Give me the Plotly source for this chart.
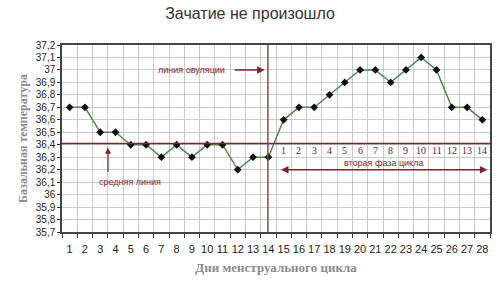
import plotly.graph_objects as go

days = list(range(1, 29))
temps = [36.7, 36.7, 36.5, 36.5, 36.4, 36.4, 36.3, 36.4, 36.3, 36.4,
         36.4, 36.2, 36.3, 36.3, 36.6, 36.7, 36.7, 36.8, 36.9, 37.0,
         37.0, 36.9, 37.0, 37.1, 37.0, 36.7, 36.7, 36.6]
mean_temp = 36.41
ovulation_day = 13.97
ytick_vals = [35.7, 35.8, 35.9, 36.0, 36.1, 36.2, 36.3, 36.4, 36.5, 36.6,
              36.7, 36.8, 36.9, 37.0, 37.1, 37.2]
ytick_text = ["35,7", "35,8", "35,9", "36", "36,1", "36,2", "36,3", "36,4",
              "36,5", "36,6", "36,7", "36,8", "36,9", "37", "37,1", "37,2"]
phase_days = list(range(15, 29))
phase_labels = [str(i) for i in range(1, 15)]

RED = "#7d2525"
fig = go.Figure()
fig.add_trace(go.Scatter(
    x=days, y=temps, mode="lines+markers",
    line=dict(color="#4f8a4f", width=1.5),
    marker=dict(symbol="diamond", size=6, color="#111111"),
    hoverinfo="skip", showlegend=False))

fig.add_shape(type="line", xref="paper", x0=0, x1=1, yref="y",
              y0=mean_temp, y1=mean_temp, line=dict(color=RED, width=1.5))
fig.add_shape(type="line", xref="x", x0=ovulation_day, x1=ovulation_day,
              yref="paper", y0=0, y1=1, line=dict(color="#8b4a4a", width=1.5))

ann_font = dict(family="Liberation Sans", size=9, color=RED)
fig.add_annotation(x=13.75, y=37.0, ax=11.7, ay=37.0, axref="x", ayref="y",
                   showarrow=True, arrowhead=2, arrowsize=1, arrowwidth=1.5,
                   arrowcolor=RED, text="")
fig.add_annotation(x=8.95, y=37.0, text="линия овуляции", showarrow=False,
                   font=ann_font)
fig.add_annotation(x=3.51, y=36.375, ax=3.51, ay=36.17, axref="x", ayref="y",
                   showarrow=True, arrowhead=2, arrowsize=1, arrowwidth=1.2,
                   arrowcolor=RED, text="")
fig.add_annotation(x=4.95, y=36.1, text="средняя линия", showarrow=False,
                   font=ann_font)
fig.add_annotation(x=28.33, y=36.2, ax=14.73, ay=36.2, axref="x", ayref="y",
                   showarrow=True, arrowhead=2, startarrowhead=2,
                   arrowside="end+start", arrowsize=1, arrowwidth=1.5,
                   arrowcolor=RED, text="")
fig.add_annotation(x=21.55, y=36.25, text="вторая фаза цикла", showarrow=False,
                   font=ann_font)
for d, lab in zip(phase_days, phase_labels):
    fig.add_annotation(x=d, y=36.355, text=lab, showarrow=False,
                       font=dict(family="Liberation Serif", size=10, color="#5a2a2a"))

fig.update_layout(
    width=500, height=302,
    margin=dict(l=62, r=8, t=45, b=70),
    paper_bgcolor="white", plot_bgcolor="white",
    title=dict(text="Зачатие не произошло", x=0.5, xanchor="center",
               y=0.955, yanchor="middle",
               font=dict(family="Liberation Sans", size=16, color="#333333")),
    xaxis=dict(range=[0.5, 28.5], tickvals=days, ticktext=[str(d) for d in days],
               showgrid=False, ticks="", zeroline=False, ticklabelstandoff=6,
               tickfont=dict(family="Liberation Sans", size=11, color="#222"),
               showline=True, linecolor="#444", linewidth=1.5, mirror=True,
               minor=dict(tick0=0.5, dtick=1, showgrid=True, gridcolor="#c9c9c9",
                          gridwidth=1, ticks="outside", ticklen=4, tickcolor="#333"),
               title=dict(text="<b>Дни менструального цикла</b>", standoff=9,
                          font=dict(family="Liberation Serif", size=13, color="#8a8a8a"))),
    yaxis=dict(range=[35.7, 37.2], tickvals=ytick_vals, ticktext=ytick_text,
               showgrid=True, gridcolor="#c9c9c9", gridwidth=1, zeroline=False,
               ticks="outside", ticklen=3, tickcolor="#333",
               tickfont=dict(family="Liberation Sans", size=10, color="#222"),
               showline=True, linecolor="#444", linewidth=1.5, mirror=True,
               title=dict(text="<b>Базальная температура</b>", standoff=6,
                          font=dict(family="Liberation Serif", size=12, color="#8a8a8a"))),
)
fig.write_html("out.html")
